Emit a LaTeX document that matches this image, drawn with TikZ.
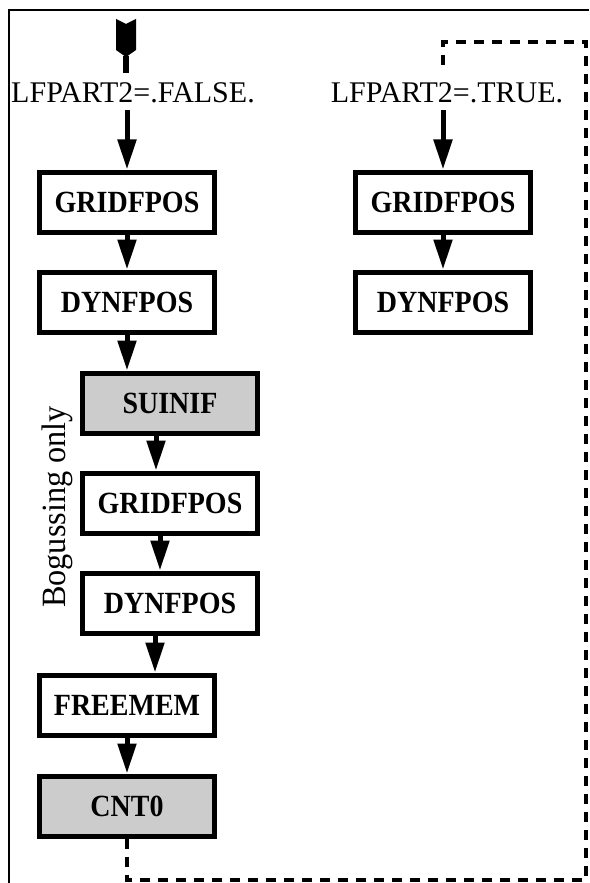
\documentclass[tikz,border=0pt]{standalone}
\usepackage{fontspec}
\setmainfont{Liberation Serif}
\usetikzlibrary{arrows.meta}

\begin{document}
\begin{tikzpicture}[x=0.5pt, y=-0.5pt,
    every node/.style={font=\fontsize{15}{18}\selectfont},
    box/.style={draw, line width=2.5pt, minimum width=87.5pt, minimum height=30pt,
        inner sep=0pt, font=\fontsize{14}{17}\selectfont\bfseries},
    graybox/.style={box, fill=black!20},
    arr/.style={line width=2.5pt, -{Triangle[length=15pt, width=9pt]}},
    backline/.style={line width=2pt, dash pattern=on 5pt off 4pt}]
    \useasboundingbox (0,0) rectangle (589,883);
    % frame
    \draw [line width=1pt] (9,883) -- (9,10) -- (589,10);
    % entry marker
    \fill (116,19) -- (126,24) -- (136,19) -- (136,50) -- (126,57) -- (116,50) -- cycle;
    \coordinate (entry) at (126,56);
    \draw [line width=3pt] (entry) -- ++(0,17);
    % first pass
    \node [anchor=base] (false) at (133,103) {LFPART2=.FALSE.};
    \node [box] (g1) at (127,202) {\scalebox{1}[1.1]{GRIDFPOS}};
    \node [box] (d1) at (127,302) {\scalebox{1}[1.1]{DYNFPOS}};
    \node [graybox] (su) at (170,403) {\scalebox{1}[1.1]{SUINIF}};
    \node [box] (g2) at (170,503) {\scalebox{1}[1.1]{GRIDFPOS}};
    \node [box] (d2) at (170,603) {\scalebox{1}[1.1]{DYNFPOS}};
    \node [box] (fm) at (127,705) {\scalebox{1}[1.1]{FREEMEM}};
    \node [graybox] (cnt) at (127,806) {\scalebox{1}[1.1]{CNT0}};
    \node [rotate=90, anchor=base, font=\fontsize{17}{20}\selectfont] (bog) at (65,507)
        {\scalebox{0.95}[1]{Bogussing only}};
    \draw [arr] (g1.north |- false.south) -- (g1.north);
    \draw [arr] (g1.south) -- (d1.north);
    \draw [arr] (d1.south) -- (d1.south |- su.north);
    \draw [arr] ([xshift=-7pt]su.south) -- ([xshift=-7pt]su.south |- g2.north);
    \draw [arr] ([xshift=-5pt]g2.south) -- ([xshift=-5pt]g2.south |- d2.north);
    \draw [arr] ([xshift=-7.5pt]d2.south) -- ([xshift=-7.5pt]d2.south |- fm.north);
    \draw [arr] (fm.south) -- (cnt.north);
    % second pass
    \node [anchor=base] (true) at (447,103) {LFPART2=.TRUE.};
    \node [box] (g3) at (443,202) {\scalebox{1}[1.1]{GRIDFPOS}};
    \node [box] (d3) at (443,302) {\scalebox{1}[1.1]{DYNFPOS}};
    \draw [arr] (g3.north |- true.south) -- (g3.north);
    \draw [arr] (g3.south) -- (d3.north);
    % return path
    \coordinate (cut) at (443,68);
    \draw [backline] (cnt.south) -- ++(0,41) -| (586,42) -| (cut);
\end{tikzpicture}
\end{document}
